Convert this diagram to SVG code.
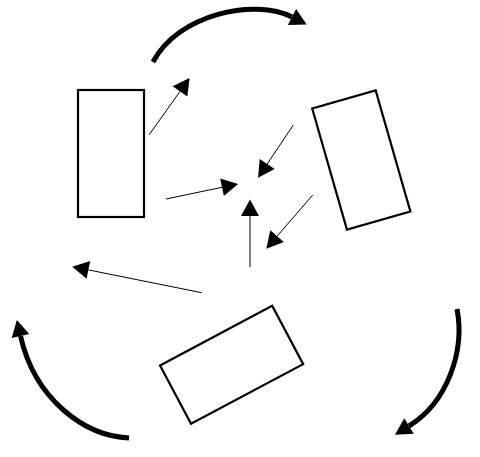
<svg xmlns="http://www.w3.org/2000/svg" width="480" height="457" viewBox="0 0 480 457">
<style>
.node{fill:none;stroke:#000;stroke-width:2.2}
.thin{fill:none;stroke:#000;stroke-width:1;marker-end:url(#ah)}
.thick{fill:none;stroke:#000;stroke-width:5;marker-end:url(#ah)}
</style>
<defs>
<marker id="ah" markerUnits="userSpaceOnUse" markerWidth="17" markerHeight="18" refX="0" refY="9" orient="auto" overflow="visible">
<path d="M0,0 L16.5,9 L0,18 Z" fill="#000"/>
</marker>
</defs>
<rect width="480" height="457" fill="#fff"/>
<g id="node-left"><rect class="node" x="78" y="90" width="66" height="127"/></g>
<g id="node-right"><rect class="node" x="-33" y="-63" width="66" height="126" transform="translate(361.3,160) rotate(-16)"/></g>
<g id="node-bottom"><rect class="node" x="-63.5" y="-33" width="127" height="66" transform="translate(231.6,364.8) rotate(-28)"/></g>
<g id="connectors">
<path class="thin" d="M149,135 L180,91.4"/>
<path class="thin" d="M166,199 L222,187.3"/>
<path class="thin" d="M250,267 L250,216"/>
<path class="thin" d="M293.3,125 L267.2,164"/>
<path class="thin" d="M312.7,195 L277.1,236.2"/>
<path class="thin" d="M201.7,292.7 L88.4,269.9"/>
<path class="thick" d="M153,62 C178,14 255,-2 292,17"/>
<path class="thick" d="M129,438 C85,436 35,400 20.5,336"/>
<path class="thick" d="M457,309 C465,350 448,402 409,426"/>
</g>
</svg>
